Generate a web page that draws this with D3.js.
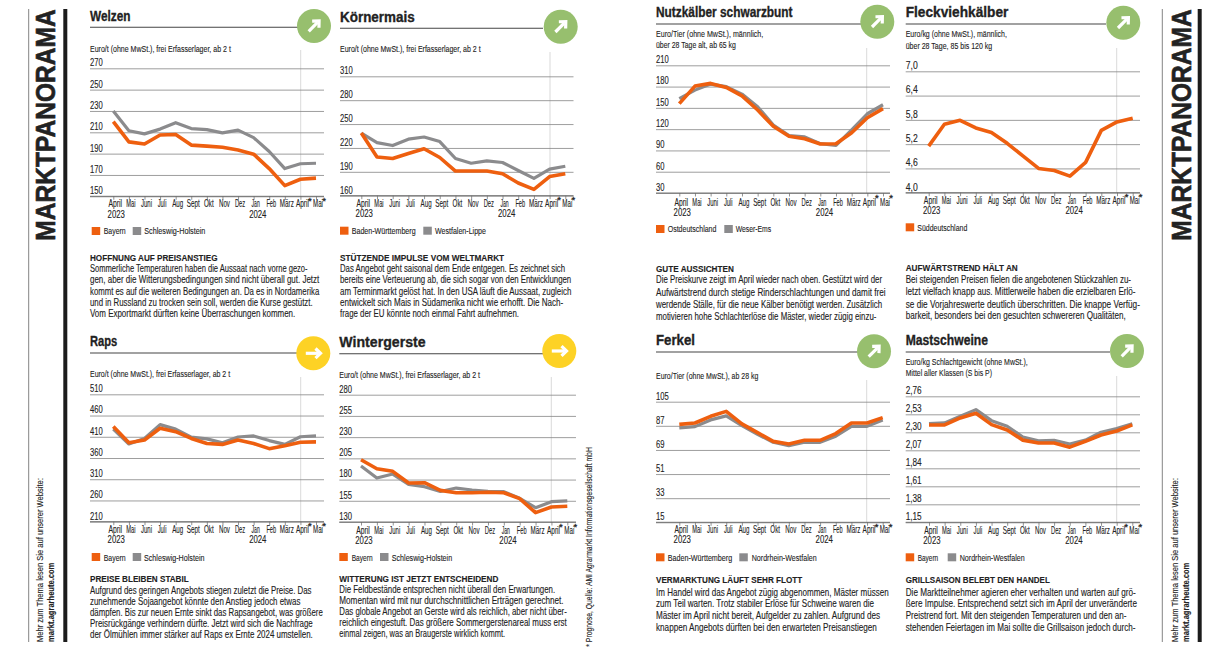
<!DOCTYPE html>
<html lang="de"><head><meta charset="utf-8">
<script src="https://cdn.jsdelivr.net/npm/d3@7"></script>
<style>
html,body{margin:0;padding:0;background:#fff}
svg{display:block}
text{font-family:"Liberation Sans Narrow","Liberation Sans",sans-serif;fill:#222;stroke:#222;stroke-width:.12}
</style></head><body>
<svg id="c" width="1231" height="651"></svg>
<script>
// ---- categories
const months = ["April","Mai","Juni","Juli","Aug","Sept","Okt","Nov","Dez","Jan","Feb","März","April ","Mai "];
// ---- series values
const weizenBayern = [220,201,199,207.5,208,198,197,196,193.5,189.5,176,160,166,167];
const weizenSH = [230,211.5,208.5,213,219,213.5,212.5,209.5,212,205,192,176,180.5,181];
const maisBW = [238.7,208.7,206.7,213,219,208,191,191,191,187.5,176,168,184,187.5];
const maisWL = [238.7,226.7,223,231,233.7,228,206.7,200.8,203.7,201.7,191.7,181.7,193.3,197];
const rapsBayern = [434,396,402.5,430,422,406,394,392,402.5,394,382,389,397,398];
const rapsSH = [428,393,406,438.6,428,409,405,396,409.5,412,401,392,410,412];
const gersteBayern = [203.4,192.8,189.7,176,176.3,167.3,164.5,164.5,165,164.5,157.5,141,147.7,148.5];
const gersteSH = [196,181.8,186.5,174.4,171.6,166,170,167.7,166,165.7,157.9,146.9,154,155];
const nutzOst = [156,180.7,184.5,178.8,167,147,124,110,106.5,99,99.5,115,136,149];
const nutzWeser = [163,175,183.5,180,169.4,151.6,125.8,111,109,99.5,97,119,141.7,154.4];
const fleckSued = [5.15,5.69,5.79,5.6,5.49,5.22,4.91,4.6,4.55,4.41,4.75,5.54,5.75,5.84];
const ferkelBW = [88.1,89.1,94.1,97.8,88.4,81.9,75.4,73.5,76.2,76.2,81.2,89.1,89.1,93.1];
const ferkelNRW = [85.4,86.4,91.4,94.4,87.1,80.7,74.7,72.2,74.7,74.7,79.2,86.6,86.6,91.4];
const mastBayern = [2.394,2.394,2.483,2.543,2.398,2.33,2.2,2.164,2.164,2.11,2.185,2.266,2.317,2.394];
const mastNRW = [2.41,2.42,2.504,2.59,2.449,2.377,2.24,2.19,2.198,2.15,2.2,2.3,2.347,2.41];
// ---- tick labels
const ticksWeizen = [150,170,190,210,230,250,270];
const ticksMais = [160,190,220,250,280,310];
const ticksRaps = [210,260,310,360,410,460,510];
const ticksGerste = [130,155,180,205,230,255,280];
const ticksNutz = [30,60,90,120,150,180,210];
const ticksFleck = [4.0,4.6,5.2,5.8,6.4,7.0];
const ticksFerkel = [15,33,51,69,87,105];
const ticksMast = [1.15,1.38,1.61,1.84,2.07,2.30,2.53,2.76];

const ORANGE="#ee5f0f", GRAY="#8b8b8d", GREEN="#97bf6e", YELLOW="#fdd225";
const labelW = {"April":13.7,"Mai":9.3,"Juni":11,"Juli":8.7,"Aug":11,"Sept":13,"Okt":9.7,"Nov":11,"Dez":10.3,"Jan":8.3,"Feb":9.7,"März":14,"April ":13,"Mai ":10};

const panels = [
 {title:"Welzen",titleW:40.5,x0:90,x1:324,titleY:21,ruleY:27.3,ruleEnd:300,cx:314,cy:26,color:GREEN,angle:-45,
  unit:[["Euro/t (ohne MwSt.), frei Erfasserlager, ab 2 t",141,52]],
  top:68.3,axis:196.3,t0:113.3,t1:316,vx:300.7,vTop:50,tickY:207,yearY:218,ticks:ticksWeizen,dec:0,
  series:[{name:"Schleswig-Holstein",v:weizenSH,c:GRAY,sx:132.7,tx:144.3,tw:61},{name:"Bayern",v:weizenBayern,c:ORANGE,sx:91.7,tx:103.7,tw:22}],
  legY:227,legT:234.3,head:"HOFFNUNG AUF PREISANSTIEG",headW:127.7,headY:260.7,
  body:["Sommerliche Temperaturen haben die Aussaat nach vorne gezo-","gen, aber die Witterungsbedingungen sind nicht überall gut. Jetzt","kommt es auf die weiteren Bedingungen an. Da es in Nordamerika","und in Russland zu trocken sein soll, werden die Kurse gestützt.","Vom Exportmarkt dürften keine Überraschungen kommen."],
  bodyW:[217.7,229.3,229.3,222.7,205.3],bodyY:[271.7,283,294.7,305.5,316.7]},
 {title:"Körnermais",titleW:74.7,x0:340,x1:573.5,titleY:21.7,ruleY:28.3,ruleEnd:543,cx:560.7,cy:26.7,color:GREEN,angle:-45,
  unit:[["Euro/t (ohne MwSt.), frei Erfasserlager, ab 2 t",140.7,51.7]],
  top:76.3,axis:195.7,t0:361.3,t1:565.3,vx:550,vTop:52,tickY:206.7,yearY:217,ticks:ticksMais,dec:0,
  series:[{name:"Westfalen-Lippe",v:maisWL,c:GRAY,sx:423.3,tx:435,tw:51},{name:"Baden-Württemberg",v:maisBW,c:ORANGE,sx:340,tx:351.7,tw:64}],
  legY:226.7,legT:234.3,head:"STÜTZENDE IMPULSE VOM WELTMARKT",headW:164.3,headY:260.7,
  body:["Das Angebot geht saisonal dem Ende entgegen. Es zeichnet sich","bereits eine Verteuerung ab, die sich sogar von den Entwicklungen","am Terminmarkt gelöst hat. In den USA läuft die Aussaat, zugleich","entwickelt sich Mais in Südamerika nicht wie erhofft. Die Nach-","frage der EU könnte noch einmal Fahrt aufnehmen."],
  bodyW:[225,231.3,231.3,223.3,179],bodyY:[271.7,283,294.7,305.5,316.7]},
 {title:"Raps",titleW:27.3,x0:90,x1:324,titleY:345.7,ruleY:353,ruleEnd:298,cx:313.3,cy:353.3,color:YELLOW,angle:0,
  unit:[["Euro/t (ohne MwSt.), frei Erfasserlager, ab 2 t",140.3,376.7]],
  top:394.3,axis:521.7,t0:113.3,t1:316,vx:300.7,vTop:377,tickY:533.3,yearY:543.3,ticks:ticksRaps,dec:0,
  series:[{name:"Schleswig-Holstein",v:rapsSH,c:GRAY,sx:132.7,tx:144,tw:60.5},{name:"Bayern",v:rapsBayern,c:ORANGE,sx:91.7,tx:103.7,tw:22}],
  legY:553,legT:560.7,head:"PREISE BLEIBEN STABIL",headW:98.7,headY:581.7,
  body:["Aufgrund des geringen Angebots stiegen zuletzt die Preise. Das","zunehmende Sojaangebot könnte den Anstieg jedoch etwas","dämpfen. Bis zur neuen Ernte sinkt das Rapsangebot, was größere","Preisrückgänge verhindern dürfte. Jetzt wird sich die Nachfrage","der Ölmühlen immer stärker auf Raps ex Ernte 2024 umstellen."],
  bodyW:[221.7,210.3,232.7,222.7,222.7],bodyY:[594.3,605,616,626.7,637.7]},
 {title:"Wintergerste",titleW:86.3,x0:339.3,x1:576,titleY:346.7,ruleY:353.7,ruleEnd:543,cx:559.3,cy:351,color:YELLOW,angle:0,
  unit:[["Euro/t (ohne MwSt.), frei Erfasserlager, ab 2 t",140.7,377.7]],
  top:394.7,axis:522,t0:361,t1:567.3,vx:551.3,vTop:377,tickY:534,yearY:544,ticks:ticksGerste,dec:0,
  series:[{name:"Schleswig-Holstein",v:gersteSH,c:GRAY,sx:380,tx:391.7,tw:60.5},{name:"Bayern",v:gersteBayern,c:ORANGE,sx:339.3,tx:351.7,tw:21}],
  legY:553,legT:560.7,head:"WITTERUNG IST JETZT ENTSCHEIDEND",headW:159.3,headY:581.7,
  body:["Die Feldbestände entsprechen nicht überall den Erwartungen.","Momentan wird mit nur durchschnittlichen Erträgen gerechnet.","Das globale Angebot an Gerste wird als reichlich, aber nicht über-","reichlich eingestuft. Das größere Sommergerstenareal muss erst","einmal zeigen, was an Braugerste wirklich kommt."],
  bodyW:[216,224.3,227.7,227.3,165.7],bodyY:[593.3,604.3,615,625.7,637]},
 {title:"Nutzkälber schwarzbunt",titleW:136.7,x0:656,x1:890,titleY:16.7,ruleY:24,ruleEnd:861.7,cx:877.3,cy:21.7,color:GREEN,angle:-45,
  unit:[["Euro/Tier (ohne MwSt.), männlich,",107.3,36.7],["über 28 Tage alt, ab 65 kg",80,48]],
  top:65.3,axis:193,t0:679.3,t1:883,vx:866.7,vTop:48,tickY:205.7,yearY:215.7,ticks:ticksNutz,dec:0,
  series:[{name:"Weser-Ems",v:nutzWeser,c:GRAY,sx:724.3,tx:735.7,tw:35.5},{name:"Ostdeutschland",v:nutzOst,c:ORANGE,sx:656,tx:667.7,tw:48.7}],
  legY:225,legT:232.3,head:"GUTE AUSSICHTEN",headW:78,headY:271.7,
  body:["Die Preiskurve zeigt im April wieder nach oben. Gestützt wird der","Aufwärtstrend durch stetige Rinderschlachtungen und damit frei","werdende Ställe, für die neue Kälber benötigt werden. Zusätzlich","motivieren hohe Schlachterlöse die Mäster, wieder zügig einzu-"],
  bodyW:[226.3,229.7,226.3,220.7],bodyY:[283.3,296,308.3,320]},
 {title:"Fleckviehkälber",titleW:102.7,x0:905.7,x1:1140,titleY:16.7,ruleY:24,ruleEnd:1106,cx:1123.3,cy:22.7,color:GREEN,angle:-45,
  unit:[["Euro/kg (ohne MwSt.), männlich,",101.3,37.3],["über 28 Tage, 85 bis 120 kg",86.7,49]],
  top:71.3,axis:192.7,t0:928.7,t1:1132.7,vx:1116.7,vTop:48,tickY:204,yearY:214.3,ticks:ticksFleck,dec:1,
  series:[{name:"Süddeutschland",v:fleckSued,c:ORANGE,sx:905.7,tx:917.3,tw:50}],
  legY:223.3,legT:231,head:"AUFWÄRTSTREND HÄLT AN",headW:112,headY:271.3,
  body:["Bei steigenden Preisen fielen die angebotenen Stückzahlen zu-","letzt vielfach knapp aus. Mittlerweile haben die erzielbaren Erlö-","se die Vorjahreswerte deutlich überschritten. Die knappe Verfüg-","barkeit, besonders bei den gesuchten schwereren Qualitäten,"],
  bodyW:[225.3,230,234.3,220.3],bodyY:[282.7,295,307.7,319.3]},
 {title:"Ferkel",titleW:39,x0:656,x1:890,titleY:345,ruleY:352,ruleEnd:858,cx:874,cy:351.3,color:GREEN,angle:-45,
  unit:[["Euro/Tier (ohne MwSt.), ab 28 kg",102.3,379.3]],
  top:401.7,axis:522.3,t0:679.3,t1:882.7,vx:866.7,vTop:380,tickY:533.3,yearY:543.3,ticks:ticksFerkel,dec:0,
  series:[{name:"Nordrhein-Westfalen",v:ferkelNRW,c:GRAY,sx:739.3,tx:751.7,tw:65},{name:"Baden-Württemberg",v:ferkelBW,c:ORANGE,sx:656,tx:667.7,tw:64.5}],
  legY:553.3,legT:561,head:"VERMARKTUNG LÄUFT SEHR FLOTT",headW:146.3,headY:583.3,
  body:["Im Handel wird das Angebot zügig abgenommen, Mäster müssen","zum Teil warten. Trotz stabiler Erlöse für Schweine waren die","Mäster im April nicht bereit, Aufgelder zu zahlen. Aufgrund des","knappen Angebots dürften bei den erwarteten Preisanstiegen"],
  bodyW:[232.7,218.3,224,221],bodyY:[595.7,607.3,619.3,631]},
 {title:"Mastschweine",titleW:82.3,x0:905.7,x1:1140,titleY:345,ruleY:352,ruleEnd:1110,cx:1127,cy:351,color:GREEN,angle:-45,
  unit:[["Euro/kg Schlachtgewicht (ohne MwSt.),",122.3,365],["Mittel aller Klassen (S bis P)",86.3,375.7]],
  top:396.3,axis:522.3,t0:929,t1:1132.3,vx:1116.7,vTop:376,tickY:534.3,yearY:543.7,ticks:ticksMast,dec:2,
  series:[{name:"Nordrhein-Westfalen",v:mastNRW,c:GRAY,sx:947.7,tx:959.7,tw:65},{name:"Bayern",v:mastBayern,c:ORANGE,sx:905.7,tx:917.7,tw:20.5}],
  legY:553.3,legT:561.3,head:"GRILLSAISON BELEBT DEN HANDEL",headW:144.3,headY:583.3,
  body:["Die Marktteilnehmer agieren eher verhalten und warten auf grö-","ßere Impulse. Entsprechend setzt sich im April der unveränderte","Preistrend fort. Mit den steigenden Temperaturen und den an-","stehenden Feiertagen im Mai sollte die Grillsaison jedoch durch-"],
  bodyW:[230,231,221,230],bodyY:[595.7,607.3,618.7,631.3]}
];

const svg = d3.select("#c");
const locale = d3.formatLocale({decimal:",",thousands:".",grouping:[3],currency:["","€"]});

// squeeze a text horizontally so that it spans the measured width
function squeeze(node,x,y,w,rot){
  const k = w/node.getComputedTextLength();
  node.setAttribute("x",0); node.setAttribute("y",0); node.removeAttribute("dy");
  node.setAttribute("transform",`translate(${x},${y})${rot?` rotate(${rot})`:""} scale(${k},1)`);
}
function put(g,str,x,y,w,size,weight){
  const t = g.append("text").attr("font-size",size).attr("font-weight",weight||400).text(str);
  squeeze(t.node(),x,y,w);
  return t;
}

panels.forEach(p=>{
  const g = svg.append("g");
  const y = d3.scaleLinear().domain(d3.extent(p.ticks)).range([p.axis,p.top]);
  const x = d3.scalePoint().domain(months).range([p.t0,p.t1]);

  put(g,p.title,p.x0,p.titleY,p.titleW,15.5,700).style("stroke-width",.35);
  g.append("line").attr("x1",p.x0).attr("x2",p.ruleEnd).attr("y1",p.ruleY).attr("y2",p.ruleY).attr("stroke","#444").attr("stroke-width",1.1);
  p.unit.forEach(u=>put(g,u[0],p.x0,u[2],u[1],9.8));

  // forecast divider
  g.append("line").attr("x1",p.vx).attr("x2",p.vx).attr("y1",p.vTop).attr("y2",p.axis).attr("stroke","#cfcfcf").attr("stroke-width",.8);

  // horizontal grid + value labels
  const fmt = locale.format("."+p.dec+"f");
  const yAxis = d3.axisLeft(y).tickValues(p.ticks).tickSize(-(p.x1-p.x0)).tickFormat(fmt);
  const ya = g.append("g").attr("transform",`translate(${p.x0},0)`).call(yAxis);
  ya.select(".domain").remove();
  ya.selectAll(".tick line").attr("stroke","#858585").attr("stroke-width",.8);
  ya.selectAll(".tick text").attr("text-anchor","start").attr("font-size",10.5).attr("font-family",null).attr("fill",null)
    .each(function(){ const s=this.textContent; squeeze(this,0,-2.6,s.length*(s.includes(",")?4:4.25)); });

  // month axis
  const xAxis = d3.axisBottom(x).tickSize(3.5).tickSizeOuter(0);
  const xa = g.append("g").attr("transform",`translate(0,${p.axis})`).call(xAxis);
  xa.select(".domain").remove();
  xa.selectAll(".tick line").attr("stroke","#777").attr("stroke-width",.8);
  xa.selectAll(".tick text").attr("font-size",10.3).attr("font-family",null).attr("fill",null)
    .each(function(d){ squeeze(this,1.5,p.tickY-p.axis,labelW[d]); });
  g.append("line").attr("x1",p.x0).attr("x2",p.x1).attr("y1",p.axis).attr("y2",p.axis).attr("stroke","#666").attr("stroke-width",.9);

  // years & forecast marks
  put(g,"2023",x("April")-5.7,p.yearY,17.3,10.5);
  put(g,"2024",x("Jan")-4.5,p.yearY,17.3,10.5);
  const star = (mx,dx)=>g.append("text").attr("x",mx+dx).attr("y",p.axis+7.5).attr("font-size",9.5).attr("text-anchor","middle").style("font-family","'Liberation Sans'").style("stroke-width",.3).text("*");
  star(x("April "),9.5); star(x("Mai "),8);

  // lines
  const line = d3.line().x((d,i)=>x(months[i])).y(d=>y(d)).curve(d3.curveLinear);
  p.series.forEach(s=>{
    g.append("path").datum(s.v).attr("d",line).attr("fill","none").attr("stroke",s.c)
      .attr("stroke-width",s.c===ORANGE?3.6:3.2).attr("stroke-linejoin","round");
    g.append("rect").attr("x",s.sx).attr("y",p.legY).attr("width",8.5).attr("height",8).attr("fill",s.c);
    put(g,s.name,s.tx,p.legT,s.tw,9.8);
  });

  // head & body copy
  put(g,p.head,p.x0,p.headY,p.headW,9.6,700);
  p.body.forEach((t,i)=>put(g,t,p.x0,p.bodyY[i],p.bodyW[i],10.2));

  // trend badge
  const b = g.append("g").attr("transform",`translate(${p.cx},${p.cy})`);
  b.append("circle").attr("r",17).attr("fill",p.color);
  const a = b.append("g").attr("transform",`rotate(${p.angle})`);
  a.append("path").attr("d","M-7.5,0H5").attr("stroke","#fff").attr("stroke-width",3.2).attr("fill","none");
  a.append("path").attr("d","M2.2,-4.8L7.2,0L2.2,4.8").attr("stroke","#fff").attr("stroke-width",3.2).attr("fill","none");
});

// page furniture
function vtext(str,x,yEnd,len,size,weight){
  const t = svg.append("text").attr("font-size",size).attr("font-weight",weight||400).text(str);
  squeeze(t.node(),x,yEnd,len,-90);
  return t;
}
[[28.7,63.3,55,43,53.5],[1162.3,1197.7,1190.5,1178.3,1189.3]].forEach(([gx,bx,mx,tx,ux])=>{
  svg.append("line").attr("x1",gx).attr("x2",gx).attr("y1",9).attr("y2",642).attr("stroke","#777").attr("stroke-width",.9);
  svg.append("rect").attr("x",bx).attr("y",9).attr("width",4).attr("height",633).attr("fill","#1c1c1c");
  const m = svg.append("text").attr("font-size",27).attr("font-weight",700).style("font-family","'Liberation Sans'").text("MARKTPANORAMA");
  squeeze(m.node(),mx,240.7,231.5,-90);
  m.style("stroke-width",.6);
  vtext("Mehr zum Thema lesen Sie auf unserer Website:",tx,642,164,9.2);
  vtext("markt.agrarheute.com",ux,642,79.5,9,700);
});
vtext("* Prognose, Quelle: AMI Agrarmarkt Informationsgesellschaft mbH",591.7,646.7,200,9);
</script></body></html>
